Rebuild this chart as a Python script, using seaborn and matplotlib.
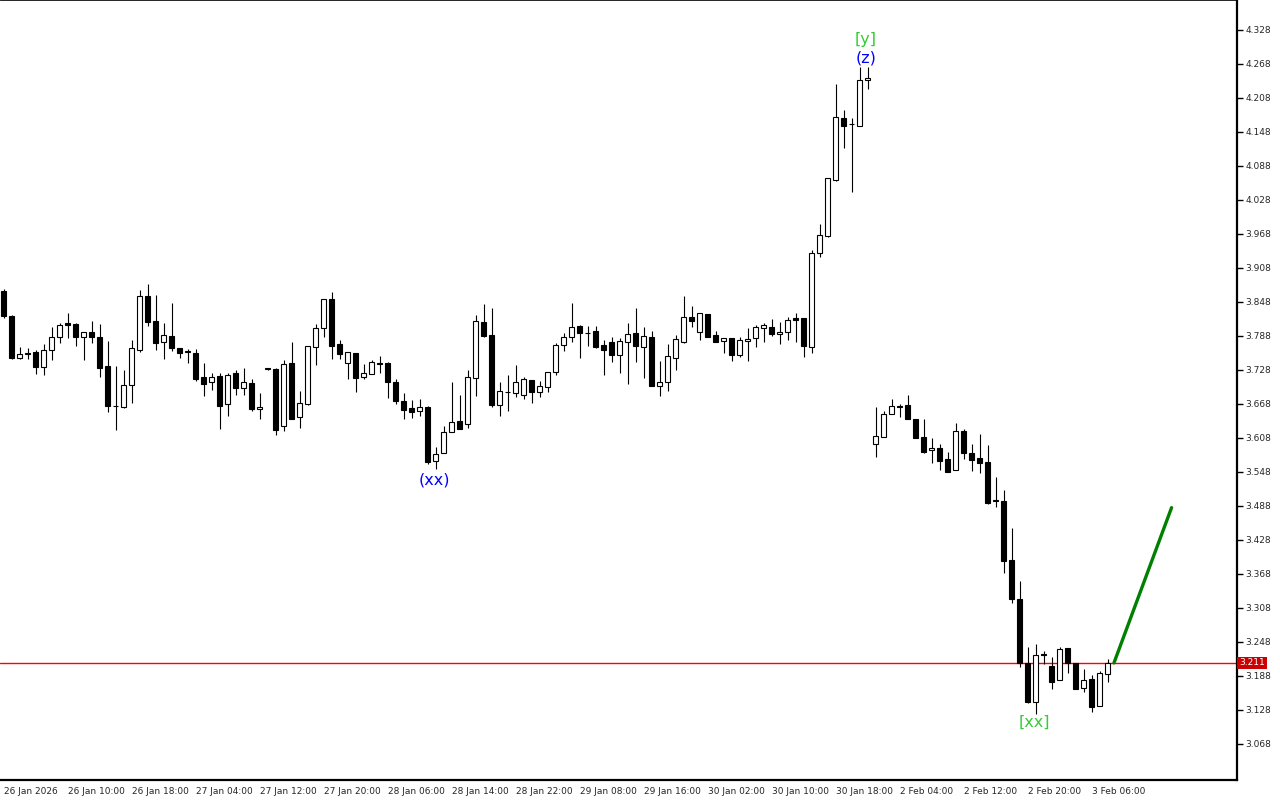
import matplotlib
matplotlib.use("Agg")
import matplotlib.pyplot as plt
import seaborn as sns
import numpy as np
import pandas as pd

# H1 candles, 26 Jan 2026 -> 3 Feb 2026
open_ = [3.867, 3.823, 3.749, 3.758, 3.760, 3.733, 3.763, 3.786, 3.811, 3.809,
         3.786, 3.795, 3.786, 3.735, 3.664, 3.663, 3.701, 3.763, 3.859, 3.814,
         3.777, 3.788, 3.767, 3.760, 3.758, 3.716, 3.707, 3.717, 3.668, 3.723,
         3.696, 3.705, 3.659, 3.730, 3.730, 3.629, 3.740, 3.645, 3.668, 3.768,
         3.802, 3.853, 3.774, 3.740, 3.758, 3.716, 3.721, 3.740, 3.740, 3.707,
         3.673, 3.661, 3.656, 3.663, 3.567, 3.581, 3.619, 3.638, 3.633, 3.714,
         3.813, 3.790, 3.666, 3.689, 3.687, 3.684, 3.710, 3.689, 3.698, 3.724,
         3.772, 3.786, 3.806, 3.793, 3.797, 3.772, 3.777, 3.754, 3.777, 3.793,
         3.768, 3.786, 3.700, 3.707, 3.749, 3.777, 3.822, 3.795, 3.827, 3.790,
         3.779, 3.784, 3.754, 3.779, 3.784, 3.802, 3.804, 3.791, 3.795, 3.820,
         3.820, 3.768, 3.934, 3.964, 4.063, 4.173, 4.162, 4.159, 4.240, 3.597,
         3.610, 3.650, 3.664, 3.666, 3.641, 3.610, 3.587, 3.590, 3.571, 3.551,
         3.620, 3.581, 3.573, 3.566, 3.497, 3.497, 3.393, 3.324, 3.211, 3.142,
         3.227, 3.205, 3.181, 3.237, 3.211, 3.167, 3.183, 3.135, 3.191]
high = [3.871, 3.825, 3.769, 3.767, 3.763, 3.774, 3.804, 3.811, 3.829, 3.811,
        3.795, 3.814, 3.809, 3.779, 3.735, 3.728, 3.781, 3.869, 3.880, 3.860,
        3.811, 3.846, 3.767, 3.765, 3.765, 3.740, 3.723, 3.723, 3.723, 3.728,
        3.731, 3.712, 3.687, 3.731, 3.731, 3.746, 3.777, 3.691, 3.770, 3.809,
        3.853, 3.866, 3.781, 3.760, 3.758, 3.739, 3.746, 3.753, 3.742, 3.712,
        3.687, 3.675, 3.677, 3.664, 3.592, 3.629, 3.707, 3.684, 3.728, 3.825,
        3.844, 3.837, 3.707, 3.719, 3.737, 3.716, 3.710, 3.709, 3.724, 3.776,
        3.793, 3.846, 3.807, 3.806, 3.806, 3.781, 3.786, 3.784, 3.811, 3.837,
        3.804, 3.797, 3.744, 3.774, 3.790, 3.859, 3.841, 3.829, 3.827, 3.797,
        3.784, 3.784, 3.786, 3.802, 3.807, 3.811, 3.818, 3.813, 3.822, 3.829,
        3.820, 3.940, 3.986, 4.067, 4.233, 4.187, 4.173, 4.263, 4.263, 3.663,
        3.656, 3.677, 3.668, 3.684, 3.641, 3.641, 3.608, 3.597, 3.583, 3.634,
        3.624, 3.597, 3.615, 3.595, 3.539, 3.516, 3.449, 3.355, 3.239, 3.244,
        3.232, 3.221, 3.239, 3.237, 3.211, 3.200, 3.190, 3.197, 3.218]
low = [3.820, 3.747, 3.747, 3.747, 3.721, 3.719, 3.746, 3.776, 3.784, 3.770,
       3.746, 3.776, 3.716, 3.654, 3.622, 3.661, 3.670, 3.760, 3.806, 3.763,
       3.747, 3.762, 3.749, 3.740, 3.709, 3.682, 3.693, 3.624, 3.647, 3.684,
       3.684, 3.656, 3.641, 3.728, 3.613, 3.620, 3.641, 3.626, 3.666, 3.737,
       3.786, 3.747, 3.747, 3.712, 3.689, 3.712, 3.721, 3.723, 3.678, 3.668,
       3.641, 3.643, 3.647, 3.562, 3.553, 3.581, 3.619, 3.624, 3.626, 3.682,
       3.786, 3.663, 3.647, 3.656, 3.680, 3.677, 3.670, 3.680, 3.689, 3.719,
       3.762, 3.777, 3.749, 3.770, 3.767, 3.719, 3.742, 3.723, 3.703, 3.742,
       3.714, 3.700, 3.682, 3.691, 3.728, 3.776, 3.804, 3.781, 3.786, 3.777,
       3.758, 3.744, 3.751, 3.744, 3.768, 3.777, 3.788, 3.774, 3.781, 3.777,
       3.751, 3.758, 3.927, 3.963, 4.062, 4.120, 4.042, 4.159, 4.224, 3.575,
       3.610, 3.650, 3.645, 3.641, 3.608, 3.581, 3.564, 3.551, 3.548, 3.551,
       3.571, 3.550, 3.546, 3.491, 3.486, 3.370, 3.317, 3.204, 3.140, 3.121,
       3.209, 3.165, 3.181, 3.193, 3.165, 3.160, 3.124, 3.135, 3.177]
close = [3.823, 3.749, 3.756, 3.757, 3.733, 3.763, 3.786, 3.807, 3.807, 3.786,
         3.795, 3.786, 3.731, 3.664, 3.664, 3.701, 3.767, 3.859, 3.813, 3.776,
         3.790, 3.767, 3.758, 3.760, 3.712, 3.703, 3.716, 3.664, 3.719, 3.696,
         3.707, 3.659, 3.663, 3.730, 3.622, 3.738, 3.641, 3.670, 3.770, 3.802,
         3.853, 3.770, 3.756, 3.760, 3.714, 3.723, 3.742, 3.739, 3.707, 3.673,
         3.657, 3.654, 3.663, 3.566, 3.580, 3.619, 3.636, 3.624, 3.716, 3.814,
         3.788, 3.666, 3.691, 3.689, 3.707, 3.712, 3.689, 3.700, 3.724, 3.772,
         3.786, 3.804, 3.793, 3.793, 3.768, 3.763, 3.754, 3.779, 3.791, 3.770,
         3.788, 3.700, 3.707, 3.753, 3.783, 3.822, 3.814, 3.829, 3.786, 3.777,
         3.784, 3.754, 3.781, 3.783, 3.804, 3.807, 3.791, 3.795, 3.816, 3.816,
         3.770, 3.934, 3.966, 4.067, 4.174, 4.159, 4.162, 4.240, 4.243, 3.611,
         3.650, 3.664, 3.663, 3.641, 3.608, 3.583, 3.590, 3.567, 3.548, 3.620,
         3.581, 3.569, 3.564, 3.493, 3.497, 3.391, 3.324, 3.211, 3.142, 3.225,
         3.225, 3.177, 3.235, 3.211, 3.165, 3.181, 3.133, 3.193, 3.211]

time_labels = ["26 Jan 2026", "26 Jan 10:00", "26 Jan 18:00", "27 Jan 04:00",
               "27 Jan 12:00", "27 Jan 20:00", "28 Jan 06:00", "28 Jan 14:00",
               "28 Jan 22:00", "29 Jan 08:00", "29 Jan 16:00", "30 Jan 02:00",
               "30 Jan 10:00", "30 Jan 18:00", "2 Feb 04:00", "2 Feb 12:00",
               "2 Feb 20:00", "3 Feb 06:00"]
label_every = 8

price_ticks = [3.068, 3.128, 3.188, 3.248, 3.308, 3.368, 3.428, 3.488, 3.548,
               3.608, 3.668, 3.728, 3.788, 3.848, 3.908, 3.968, 4.028, 4.088,
               4.148, 4.208, 4.268, 4.328]
last_price = 3.211

# forecast line
proj_bar = [138.8, 146.0]
proj_price = [3.211, 3.485]

# wave marks
wave_text = ["(xx)", "[xx]", "[y]", "(z)"]
wave_bar = [53.8, 128.8, 107.8, 107.8]
wave_price = [3.534, 3.107, 4.312, 4.279]
wave_color = ["#0000ff", "#32cd32", "#32cd32", "#0000ff"]

sns.set_style("white")
plt.rcParams["font.family"] = ["DejaVu Sans"]

df = pd.DataFrame({"open": open_, "high": high, "low": low, "close": close})
df["bar"] = np.arange(len(df))
up = df["close"] >= df["open"]

fig = plt.figure(figsize=(12.8, 8), dpi=100)
ax = fig.add_axes([0, 0.025, 1237 / 1280, 0.975])

ax.axhline(last_price, color="#ff0000", lw=1.0, zorder=0)
ax.vlines(df["bar"], df["low"], df["high"], color="black", lw=0.8, zorder=1)
body_lo = df[["open", "close"]].min(axis=1)
body_h = (df["close"] - df["open"]).abs().clip(lower=0.0008)
ax.bar(df["bar"], body_h, bottom=body_lo, width=0.6,
       color=np.where(up, "white", "black"), edgecolor="black",
       linewidth=0.8, zorder=2)

proj = pd.DataFrame({"bar": proj_bar, "price": proj_price})
sns.lineplot(data=proj, x="bar", y="price", color="#008000", lw=2.4,
             ax=ax, zorder=3)

for t, b, p, c in zip(wave_text, wave_bar, wave_price, wave_color):
    ax.text(b, p, t, color=c, fontsize=11.5, ha="center", va="center")

ax.set_xlim(-0.44, 154.18)
ax.set_ylim(3.0044, 4.3809)
ax.set_xlabel("")
ax.set_ylabel("")

ax.set_xticks(np.arange(len(time_labels)) * label_every)
ax.set_xticklabels(time_labels, ha="left")
ax.yaxis.tick_right()
ax.set_yticks(price_ticks)
ax.set_yticklabels([f"{v:.3f}" for v in price_ticks])
ax.tick_params(axis="x", length=4, width=1, labelsize=6.5, pad=1, color="black")
ax.tick_params(axis="y", length=4, width=1, labelsize=6.5, pad=2, color="black")

ax.text(1.0016, last_price, f"{last_price:.3f}", transform=ax.get_yaxis_transform(),
        ha="left", va="center", color="white", fontsize=6.5,
        bbox=dict(boxstyle="square,pad=0.2", fc="#cc0000", ec="none"))

for side in ["top", "right", "bottom", "left"]:
    ax.spines[side].set_color("black")
ax.spines["left"].set_visible(False)
ax.spines["top"].set_linewidth(0.6)
ax.spines["right"].set_linewidth(1.6)
ax.spines["bottom"].set_linewidth(1.6)

fig.savefig("out.png", dpi=100, facecolor="white")
